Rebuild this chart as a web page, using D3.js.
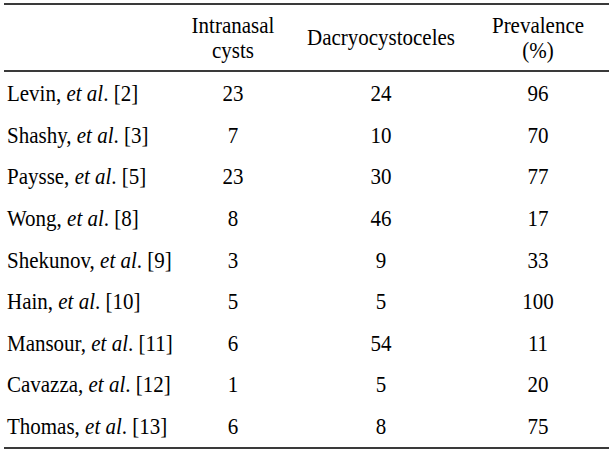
<!DOCTYPE html>
<html>
<head>
<meta charset="utf-8">
<script src="https://cdn.jsdelivr.net/npm/d3@7"></script>
<style>
  html, body { margin: 0; padding: 0; background: #fff; }
</style>
</head>
<body>
<div id="table"></div>
<script>
// Table data
const studies = ["Levin", "Shashy", "Paysse", "Wong", "Shekunov", "Hain", "Mansour", "Cavazza", "Thomas"];
const refs = ["[2]", "[3]", "[5]", "[8]", "[9]", "[10]", "[11]", "[12]", "[13]"];
const intranasalCysts = [23, 7, 23, 8, 3, 5, 6, 1, 6];
const dacryocystoceles = [24, 10, 30, 46, 9, 5, 54, 5, 8];
const prevalence = [96, 70, 77, 17, 33, 100, 11, 20, 75];
const columnKeys = ["study", "cysts", "dacryo", "prev"];
const headerLabels = [[], ["Intranasal", "cysts"], ["Dacryocystoceles"], ["Prevalence", "(%)"]];

const W = 612, H = 451;
const fontSize = 21;
const stretch = 1.07; // glyphs in the scan are a touch taller than wide
const serif = "'Liberation Serif', Tinos, 'Times New Roman', Times, serif";

const svg = d3.select("#table").append("svg")
    .attr("width", W).attr("height", H);

// column centres (study column is left-aligned)
const x = d3.scaleOrdinal().domain(columnKeys).range([7, 233, 381, 538]);
const y = d3.scalePoint().domain(studies).range([101, 434]);

const rows = studies.map((s, i) => ({
    study: s, ref: refs[i],
    cysts: intranasalCysts[i], dacryo: dacryocystoceles[i], prev: prevalence[i]
}));

function txt(sel) {
    return sel.append("text")
        .style("font-family", serif)
        .style("font-size", fontSize + "px")
        .attr("fill", "#000");
}

// rules
const rules = [4, 71, 448];
svg.selectAll("line.rule").data(rules).enter().append("line")
    .attr("class", "rule")
    .attr("x1", 4).attr("x2", 609)
    .attr("y1", d => d).attr("y2", d => d)
    .attr("stroke", "#3a3a3a").attr("stroke-width", 2);

// header
headerLabels.forEach((lines, ci) => {
    if (!lines.length) return;
    const base = lines.length === 1 ? 45 : 33;
    lines.forEach((ln, li) => {
        const hg = svg.append("g")
            .attr("transform", `translate(0,${base + li * 25}) scale(1,${stretch})`);
        txt(hg)
            .attr("x", x(columnKeys[ci]))
            .attr("text-anchor", "middle")
            .text(ln);
    });
});

// body rows
const g = svg.selectAll("g.row").data(rows).enter().append("g")
    .attr("class", "row")
    .attr("transform", d => `translate(0,${y(d.study)}) scale(1,${stretch})`);

const label = txt(g).attr("x", x("study"));
label.append("tspan").text(d => d.study + ", ");
label.append("tspan").style("font-style", "italic").text("et al");
label.append("tspan").text(d => ". " + d.ref);

["cysts", "dacryo", "prev"].forEach(k => {
    txt(g)
        .attr("x", x(k))
        .attr("text-anchor", "middle")
        .text(d => d[k]);
});
</script>
</body>
</html>
